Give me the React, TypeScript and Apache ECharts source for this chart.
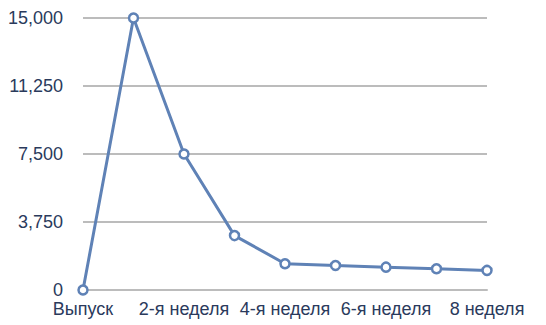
import React, { useEffect, useRef } from "react";
import * as echarts from "echarts";

const categories = [
  "Выпуск",
  "1-я неделя",
  "2-я неделя",
  "3-я неделя",
  "4-я неделя",
  "5-я неделя",
  "6-я неделя",
  "7-я неделя",
  "8 неделя",
];
const values = [0, 15000, 7500, 3000, 1450, 1350, 1260, 1170, 1080];
const yMin = 0;
const yMax = 15000;
const yInterval = 3750;

export default function App() {
  const ref = useRef<HTMLDivElement>(null);
  useEffect(() => {
    if (!ref.current) return;
    const chart = echarts.init(ref.current, null, { renderer: "svg" });
    const textColor = "#2a3a5c";
    chart.setOption({
      animation: false,
      grid: { left: 83, right: 59, top: 18, bottom: 35 },
      xAxis: {
        type: "category",
        data: categories,
        boundaryGap: false,
        axisLine: { show: true, lineStyle: { color: "#bcbcbc", width: 2 } },
        axisTick: { show: false },
        axisLabel: {
          interval: 1,
          color: textColor,
          fontSize: 18,
          lineHeight: 18,
          fontFamily: "Liberation Sans, Arial, sans-serif",
          margin: 10,
        },
        splitLine: { show: false },
      },
      yAxis: {
        type: "value",
        min: yMin,
        max: yMax,
        interval: yInterval,
        axisLine: { show: false },
        axisTick: { show: false },
        axisLabel: {
          color: textColor,
          fontSize: 18,
          lineHeight: 16,
          fontFamily: "Liberation Sans, Arial, sans-serif",
          margin: 20,
          formatter: (v: number) => v.toLocaleString("en-US"),
        },
        splitLine: { show: true, lineStyle: { color: "#bcbcbc", width: 2 } },
      },
      series: [
        {
          type: "line",
          data: values,
          symbol: "circle",
          symbolSize: 9,
          lineStyle: { color: "#5f82b6", width: 3 },
          itemStyle: { color: "#ffffff", borderColor: "#5f82b6", borderWidth: 2.5 },
        },
      ],
    });
    return () => chart.dispose();
  }, []);
  return (
    <div
      ref={ref}
      style={{ position: "fixed", left: 0, top: 0, width: 546, height: 325, background: "#fff" }}
    />
  );
}
